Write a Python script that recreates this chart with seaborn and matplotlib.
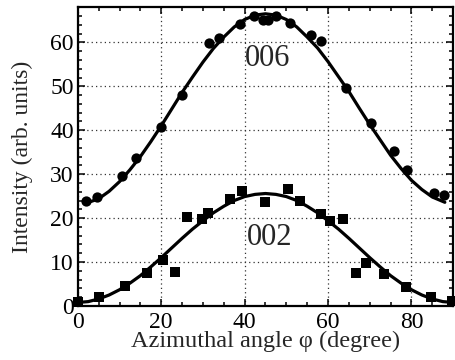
import matplotlib
matplotlib.use("Agg")
import matplotlib.pyplot as plt
from matplotlib.ticker import MultipleLocator
import seaborn as sns
import pandas as pd

# 006 reflection: measured points
x006 = [1.9, 4.6, 10.5, 13.9, 19.9, 25.1, 31.4, 33.8, 38.8, 42.2, 44.3, 45.6,
        47.4, 50.8, 56.0, 58.4, 64.4, 70.2, 75.7, 79.0, 85.3, 87.7]
y006 = [23.9, 24.8, 29.5, 33.6, 40.7, 48.0, 59.8, 61.0, 64.1, 66.1, 65.2, 65.0,
        65.9, 64.5, 61.6, 60.2, 49.5, 41.6, 35.2, 30.9, 25.7, 25.2]
# 006 fitted curve
cx006 = [2, 5, 7.5, 10, 12.5, 15, 17.5, 20, 22.5, 25, 27.5, 30, 32.5, 35, 37.5,
         40, 42.5, 45, 47.5, 50, 52.5, 55, 57.5, 60, 62.5, 65, 67.5, 70, 72.5,
         75, 77.5, 80, 82.5, 85, 88]
cy006 = [23.4, 24.4, 26.1, 28.3, 31.0, 34.0, 37.4, 41.0, 44.8, 48.6, 52.1, 55.5,
         58.6, 61.2, 63.5, 65.2, 66.2, 66.5, 66.2, 65.2, 63.5, 61.2, 58.7, 55.6,
         52.2, 48.8, 45.0, 41.3, 37.8, 34.3, 31.3, 28.6, 26.5, 24.8, 23.6]

# 002 reflection: measured points
x002 = [0.0, 5.0, 11.3, 16.5, 20.4, 23.2, 26.1, 29.7, 31.1, 36.6, 39.3, 44.8,
        50.5, 53.2, 58.4, 60.4, 63.7, 66.6, 69.2, 73.3, 78.6, 84.8, 89.6]
y002 = [0.9, 2.0, 4.5, 7.5, 10.5, 7.7, 20.2, 19.8, 21.1, 24.3, 26.1, 23.6,
        26.6, 23.9, 20.9, 19.3, 19.8, 7.5, 9.8, 7.3, 4.4, 2.0, 1.1]
# 002 fitted curve
cx002 = [0, 2.5, 5, 7.5, 10, 12.5, 15, 17.5, 20, 22.5, 25, 27.5, 30, 32.5, 35,
         37.5, 40, 42.5, 45, 47.5, 50, 52.5, 55, 57.5, 60, 62.5, 65, 67.5, 70,
         72.5, 75, 77.5, 80, 82.5, 85, 87.5, 90]
cy002 = [0.8, 1.0, 1.6, 2.5, 3.7, 5.2, 6.9, 8.9, 11.0, 13.2, 15.4, 17.5, 19.4,
         21.2, 22.7, 24.0, 24.9, 25.4, 25.6, 25.4, 24.9, 24.0, 22.7, 21.2, 19.4,
         17.5, 15.4, 13.2, 11.0, 8.9, 6.9, 5.2, 3.7, 2.5, 1.6, 1.0, 0.8]

xticks = [0, 20, 40, 60, 80]
yticks = [0, 10, 20, 30, 40, 50, 60]
labels = ["006", "002"]

sns.set_style("ticks")
plt.rcParams["font.family"] = ["Liberation Serif", "DejaVu Serif"]

fig = plt.figure(figsize=(4.55, 3.6), dpi=100)
ax = fig.add_axes([0.171, 0.15, 0.825, 0.83])

pts006 = pd.DataFrame({"x": x006, "y": y006})
pts002 = pd.DataFrame({"x": x002, "y": y002})
fit006 = pd.DataFrame({"x": cx006, "y": cy006})
fit002 = pd.DataFrame({"x": cx002, "y": cy002})

sns.lineplot(data=fit006, x="x", y="y", ax=ax, color="black", lw=2.3, sort=True)
sns.lineplot(data=fit002, x="x", y="y", ax=ax, color="black", lw=2.3, sort=True)
sns.scatterplot(data=pts006, x="x", y="y", ax=ax, color="black", marker="o",
                s=55, edgecolor="black", linewidth=0, zorder=5, clip_on=False)
sns.scatterplot(data=pts002, x="x", y="y", ax=ax, color="black", marker="s",
                s=60, edgecolor="black", linewidth=0, zorder=5, clip_on=False)

ax.text(45.5, 56.3, labels[0], fontsize=22, ha="center", va="center")
ax.text(46.0, 15.7, labels[1], fontsize=22, ha="center", va="center")

ax.set_xlim(0, 90)
ax.set_ylim(0, 68)
ax.set_xticks(xticks)
ax.set_yticks(yticks)
ax.xaxis.set_minor_locator(MultipleLocator(5))
ax.yaxis.set_minor_locator(MultipleLocator(2))
ax.tick_params(which="both", direction="in", top=True, right=True, labelsize=17,
               width=1.1, colors="black")
ax.tick_params(axis="x", pad=4)
ax.tick_params(axis="y", pad=3)
ax.tick_params(which="major", length=5)
ax.tick_params(which="minor", length=3)
for s in ax.spines.values():
    s.set_linewidth(1.6)
    s.set_color("black")
ax.grid(True, which="major", linestyle=(0, (1, 2.5)), color="0.2", lw=0.9)
ax.set_axisbelow(True)

ax.set_xlabel("Azimuthal angle φ (degree)", fontsize=17.5, labelpad=-1)
ax.set_ylabel("Intensity (arb. units)", fontsize=17, labelpad=12)

fig.savefig("out.png", dpi=100)
